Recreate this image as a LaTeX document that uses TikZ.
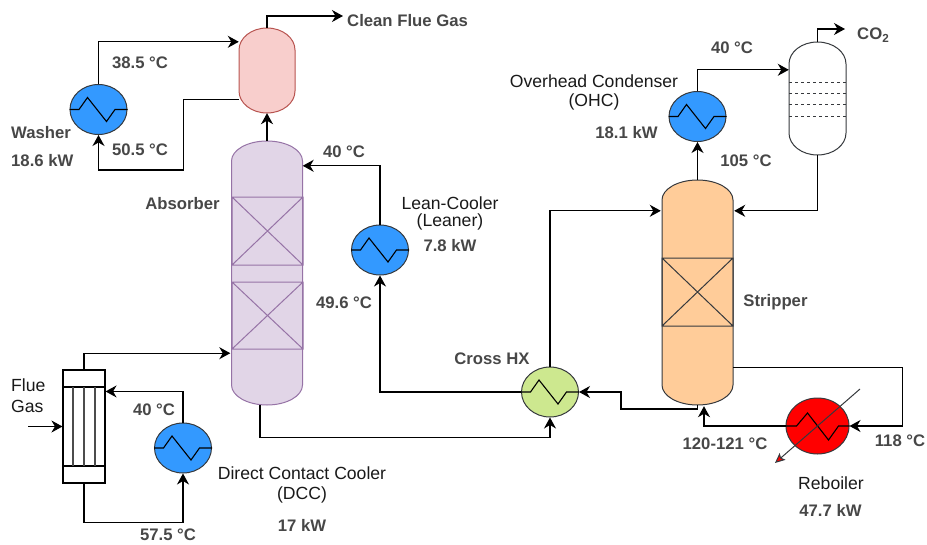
\documentclass[tikz,border=0pt]{standalone}
\usepackage{fontspec}
\setmainfont{Liberation Sans}
\usetikzlibrary{arrows.meta,shapes.geometric}

\definecolor{hxblue}{HTML}{3399FF}
\definecolor{hxgreen}{HTML}{CDE88F}
\definecolor{linegrey}{HTML}{36393D}
\definecolor{washfill}{HTML}{F8CECC}
\definecolor{washline}{HTML}{B85450}
\definecolor{absfill}{HTML}{E1D5E7}
\definecolor{absline}{HTML}{9673A6}
\definecolor{stripfill}{HTML}{FFCC99}

\tikzset{
	pipe/.style={line width=1.2pt, -{Stealth[length=11pt,width=12pt,inset=3.5pt]}},
	hx/.style={ellipse, draw=linegrey, line width=1pt, fill=hxblue, minimum width=57pt, minimum height=50pt, inner sep=0pt},
	lbl/.style={font=\fontsize{17.6}{20}\selectfont, inner sep=0pt, text=black!90},
	lblv/.style={font=\fontsize{16.7}{20}\selectfont\bfseries, inner sep=0pt, text=black!72},
}

% имя, центр x, верх, низ, полуширина, купол, стиль
\newcommand{\vessel}[7]{
	\draw[#7] ({#2-#5},{#3+#6}) arc[start angle=180, end angle=360, x radius=#5, y radius=#6]
		-- ({#2+#5},{#4-#6}) arc[start angle=0, end angle=180, x radius=#5, y radius=#6] -- cycle;
	\node[inner sep=0pt, minimum width={2*#5 pt}, minimum height={(#4-#3)*1pt}] (#1) at (#2,{(#3+#4)/2}) {};
}
% насадка
\newcommand{\packing}[5]{
	\draw[#5] (#1,#2) rectangle (#3,#4) (#1,#2) -- (#3,#4) (#1,#4) -- (#3,#2);
}

\begin{document}
\begin{tikzpicture}[x=1pt,y=-1pt]
	\useasboundingbox (0,0) rectangle (927,544);

	% Колонны
	\vessel{wash}{267}{28}{113}{28}{22}{draw=washline, line width=1pt, fill=washfill}{}
	\vessel{absorber}{267}{141}{405}{35.5}{20}{draw=absline, line width=1pt, fill=absfill}{}
	\packing{232}{197}{303}{265}{draw=absline, line width=1pt}
	\packing{232}{282}{303}{349}{draw=absline, line width=1pt}
	\vessel{stripper}{697.5}{180}{405}{35.5}{20}{draw=linegrey, line width=1pt, fill=stripfill}{}
	\packing{662}{258}{733}{326}{draw=linegrey, line width=1pt}
	\vessel{drum}{817.5}{42}{155}{28.5}{22}{draw=linegrey, line width=1pt, fill=white}{}

	% Тарелки
	\foreach \y in {82,93,104,116}
		\draw[dashed, line width=1pt, linegrey] (789,\y) -- (846,\y);

	% Башня охладителя
	\node[draw=black, line width=1.1pt, fill=white, minimum width=42pt, minimum height=113pt, inner sep=0pt] (tower) at (84,426.5) {};
	\draw[line width=1.1pt] (63,387) -- (105,387) (63,466) -- (105,466);
	\foreach \x in {73,84,95}
		\draw[line width=1.1pt, black!70] (\x,387) -- (\x,466);

	% Теплообменники
	\node[hx] (washer) at (98.5,109.5) {};
	\node[hx] (lean) at (380,250) {};
	\node[hx] (dcchx) at (183,448) {};
	\node[hx] (ohc) at (697.5,116.5) {};
	\node[hx, fill=hxgreen] (cross) at (550,392) {};
	\node[hx, fill=red, minimum width=63pt, minimum height=56pt] (reb) at (817.5,426) {};

	\foreach \h in {washer,lean,dcchx,ohc,cross}
		\draw[line width=1.1pt] (\h.west) -- ++(9.5,0) -- ++(8.5,-12) -- ++(19,24) -- ++(8.5,-12) -- (\h.east);
	\draw[line width=1.1pt] (reb.west) -- ++(11,0) -- ++(11,-13) -- ++(21,27) -- ++(10,-14) -- (reb.east);

	% Стрелка ребойлера
	\coordinate (rebend) at (860,389);
	\coordinate (rebtip) at (775,463);
	\draw[line width=1pt, linegrey, -{Stealth[length=10pt,width=9pt,inset=2pt,fill=red]}] (rebend) -- (rebtip);

	% Потоки
	\coordinate (fluein) at (28,426.5);
	\coordinate (cleanout) at (343,16);
	\coordinate (coout) at (845,29);
	\draw[pipe] (wash.north) |- (cleanout);
	\draw[pipe] (absorber.north) -- (wash.south);
	\draw[pipe] (washer.north) |- ([yshift=-14pt]wash.north west);
	\draw[pipe] ([yshift=14pt]wash.south west) -| ([xshift=85pt,yshift=-35pt]washer.south) |- ([yshift=-35pt]washer.south) -- (washer.south);
	\draw[pipe] (lean.north) |- ([yshift=-25pt]absorber.north east);
	\draw[pipe] (tower.north) |- ([xshift=-1pt,yshift=52pt]absorber.south west);
	\draw[pipe] (dcchx.north) |- ([yshift=-22pt]tower.north east);
	\draw[pipe] (tower.south) |- ([yshift=-49pt]dcchx.south) -- (dcchx.south);
	\draw[pipe] (fluein) -- (tower.west);
	\draw[pipe] ([xshift=-7pt]absorber.south) |- ([yshift=-20pt]cross.south) -- (cross.south);
	\draw[pipe] (cross.west) -| (lean.south);
	\draw[pipe] (cross.north) |- ([xshift=-1pt,yshift=-31pt]stripper.north west);
	\draw[pipe] (stripper.south) |- ([xshift=42pt,yshift=-17pt]cross.east) |- (cross.east);
	\draw[pipe] (stripper.north) -- (ohc.south);
	\draw[pipe] (ohc.north) |- ([yshift=-28pt]drum.north west);
	\draw[pipe] (drum.north) |- (coout);
	\draw[pipe] (drum.south) |- ([xshift=1pt,yshift=-31pt]stripper.north east);
	\draw[pipe] ([yshift=38pt]stripper.south east) -| ([xshift=53pt]reb.east) |- (reb.east);
	\draw[pipe] (reb.west) -| ([xshift=6.5pt,yshift=-1pt]stripper.south);

	% Подписи
	\node[lblv, anchor=west] (lclean) at (347,21) {Clean Flue Gas};
	\node[lblv] (l385) at (140,63) {38.5 °C};
	\node[lblv] (l505) at (140,150) {50.5 °C};
	\node[lblv, anchor=west] (lwasher) at (11,133) {Washer};
	\node[lblv, anchor=west] (lwkw) at (11,161) {18.6 kW};
	\node[lblv] (labs) at (182.5,204) {Absorber};
	\node[lblv] (l40a) at (344,152) {40 °C};
	\node[lbl] (llean) at (450,203) {Lean-Cooler};
	\node[lbl] (lleaner) at (450,222) {(Leaner)};
	\node[lblv] (llkw) at (450,246) {7.8 kW};
	\node[lblv] (l496) at (344,303) {49.6 °C};
	\node[lbl, anchor=west] (lflue) at (11,385) {Flue};
	\node[lbl, anchor=west] (lgas) at (11,406) {Gas};
	\node[lblv] (l40d) at (154,410) {40 °C};
	\node[lbl] (ldcc) at (302,473) {Direct Contact Cooler};
	\node[lbl] (ldccb) at (302,495) {(DCC)};
	\node[lblv] (ldkw) at (302,525) {17 kW};
	\node[lblv] (l575) at (168,535) {57.5 °C};
	\node[lblv] (lcross) at (492,359) {Cross HX};
	\node[lbl] (lohc) at (594,81) {Overhead Condenser};
	\node[lbl] (lohcb) at (594,102) {(OHC)};
	\node[lblv] (lokw) at (626.5,133) {18.1 kW};
	\node[lblv] (l40o) at (732,48) {40 °C};
	\node[lblv] (l105) at (746,161) {105 °C};
	\node[lblv, anchor=west] (lco) at (857,35) {CO\textsubscript{2}};
	\node[lblv] (lstrip) at (775.5,302) {Stripper};
	\node[lblv] (l120) at (725,444) {120-121 °C};
	\node[lblv] (l118) at (900,441) {118 °C};
	\node[lbl] (lreb) at (831,483) {Reboiler};
	\node[lblv] (lrkw) at (830.5,510) {47.7 kW};
\end{tikzpicture}
\end{document}
